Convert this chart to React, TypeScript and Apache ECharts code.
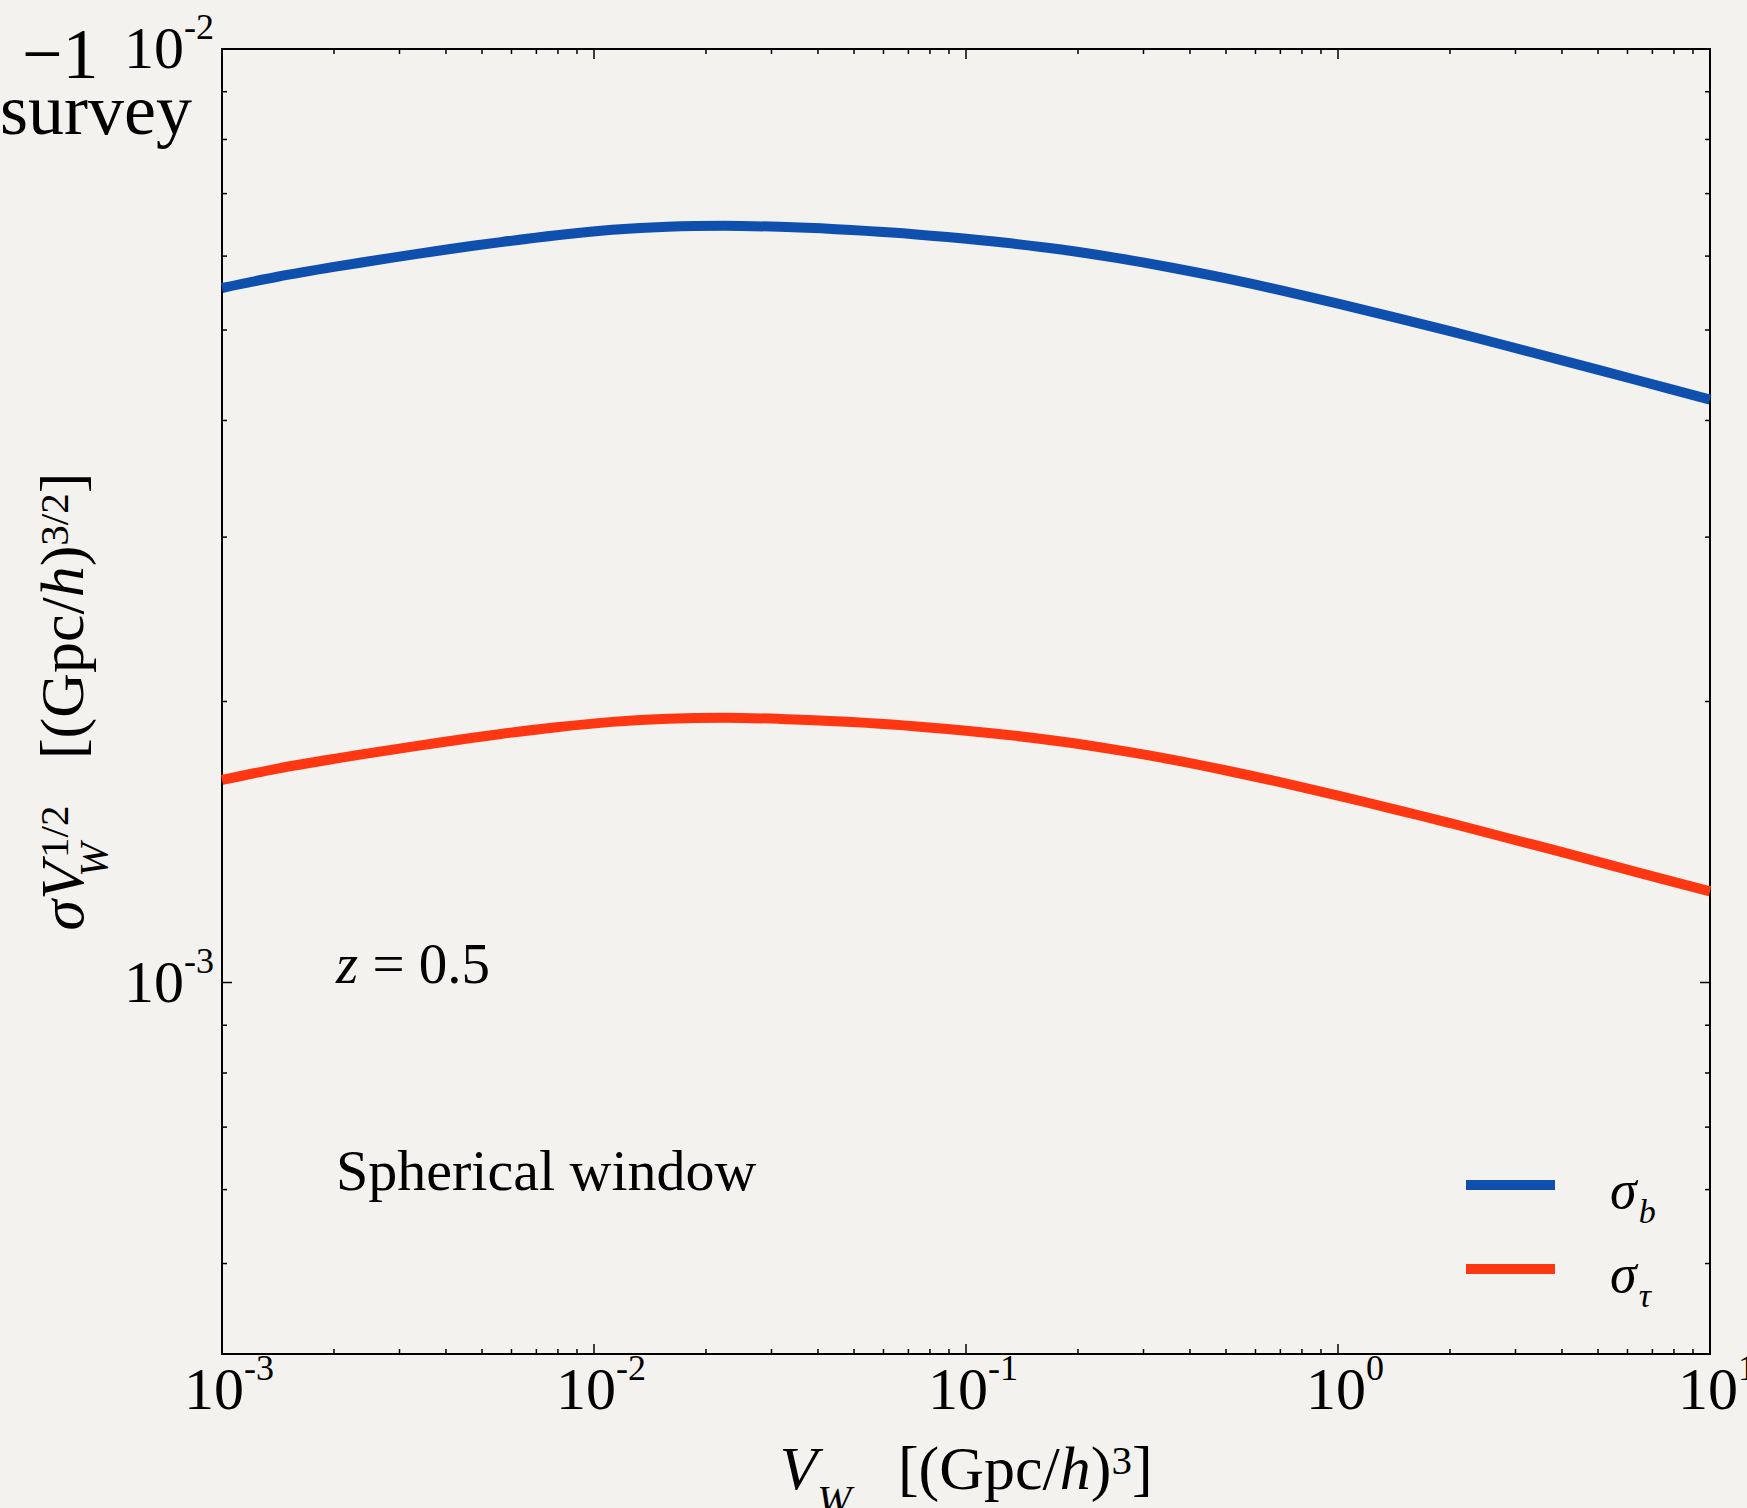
import React, { useEffect, useRef } from 'react';
import * as echarts from 'echarts';

// ---- data ----
const volumes = [
  0.001, 0.00141, 0.002, 0.00282, 0.00398, 0.00562, 0.00794, 0.0112, 0.0158, 0.0224,
  0.0316, 0.0447, 0.0631, 0.0891, 0.126, 0.178, 0.251, 0.355, 0.501, 0.708,
  1, 1.41, 2, 2.82, 3.98, 6.31, 10,
];
const sigmaB = [
  5.546e-3, 5.702e-3, 5.842e-3, 5.97e-3, 6.095e-3, 6.211e-3, 6.317e-3, 6.402e-3, 6.452e-3, 6.467e-3,
  6.449e-3, 6.412e-3, 6.36e-3, 6.288e-3, 6.204e-3, 6.102e-3, 5.977e-3, 5.834e-3, 5.678e-3, 5.51e-3,
  5.336e-3, 5.161e-3, 4.986e-3, 4.813e-3, 4.643e-3, 4.423e-3, 4.212e-3,
];
const sigmaTau = [
  1.648e-3, 1.695e-3, 1.736e-3, 1.774e-3, 1.811e-3, 1.846e-3, 1.877e-3, 1.902e-3, 1.917e-3, 1.922e-3,
  1.916e-3, 1.905e-3, 1.89e-3, 1.869e-3, 1.844e-3, 1.813e-3, 1.776e-3, 1.734e-3, 1.687e-3, 1.637e-3,
  1.586e-3, 1.534e-3, 1.482e-3, 1.43e-3, 1.38e-3, 1.314e-3, 1.252e-3,
];
const seriesNames = ['σb', 'στ'];
const seriesSubs = ['b', 'τ'];
const seriesColors = ['#0f4fae', '#ff3612'];

const xMajorTicks = [0.001, 0.01, 0.1, 1, 10];
const xMinorTicks = [
  0.002, 0.003, 0.004, 0.005, 0.006, 0.007, 0.008, 0.009,
  0.02, 0.03, 0.04, 0.05, 0.06, 0.07, 0.08, 0.09,
  0.2, 0.3, 0.4, 0.5, 0.6, 0.7, 0.8, 0.9,
  2, 3, 4, 5, 6, 7, 8, 9,
];
const yMajorTicks = [0.001, 0.01];
const yMinorTicks = [
  0.0004, 0.0005, 0.0006, 0.0007, 0.0008, 0.0009,
  0.002, 0.003, 0.004, 0.005, 0.006, 0.007, 0.008, 0.009,
];

const X_MIN = 0.001;
const X_MAX = 10;
const Y_MIN = 0.0004;
const Y_MAX = 0.01;

const SERIF = '"Liberation Serif", "Times New Roman", serif';
const BG = '#f3f2ee';

const tickRich: any = {
  b: { fontFamily: SERIF, fontSize: 60, lineHeight: 60, verticalAlign: 'bottom', color: '#000' },
  e: { fontFamily: SERIF, fontSize: 36, lineHeight: 36, verticalAlign: 'bottom', padding: [0, 0, 33, 0], color: '#000' },
};

const nameRich: any = {
  r: { fontFamily: SERIF, fontSize: 62, lineHeight: 62, verticalAlign: 'bottom', padding: [0, 0, 20, 0], color: '#000' },
  i: { fontFamily: SERIF, fontStyle: 'italic', fontSize: 62, lineHeight: 62, verticalAlign: 'bottom', padding: [0, 0, 20, 0], color: '#000' },
  sub: { fontFamily: SERIF, fontStyle: 'italic', fontSize: 41, lineHeight: 41, verticalAlign: 'bottom', color: '#000' },
  subw: { fontFamily: SERIF, fontStyle: 'italic', fontSize: 41, lineHeight: 41, verticalAlign: 'bottom', width: 4, color: '#000' },
  sup: { fontFamily: SERIF, fontSize: 41, lineHeight: 41, verticalAlign: 'bottom', padding: [0, 0, 39, 0], color: '#000' },
};

function decadeLabel(v: number): string {
  const l = Math.log10(v);
  const e = Math.round(l);
  if (Math.abs(l - e) > 1e-6) return '';
  return `{b|10}{e|${e}}`;
}

export default function App() {
  const ref = useRef<HTMLDivElement>(null);
  useEffect(() => {
    if (!ref.current) return;
    const chart = echarts.init(ref.current, undefined, { renderer: 'svg' });

    const tickData: number[][] = [];
    xMajorTicks.forEach((v) => { tickData.push([v, Y_MIN, 0, 10]); tickData.push([v, Y_MIN, 1, 10]); });
    xMinorTicks.forEach((v) => { tickData.push([v, Y_MIN, 0, 5]); tickData.push([v, Y_MIN, 1, 5]); });
    yMajorTicks.forEach((v) => { tickData.push([X_MIN, v, 2, 10]); tickData.push([X_MIN, v, 3, 10]); });
    yMinorTicks.forEach((v) => { tickData.push([X_MIN, v, 2, 5]); tickData.push([X_MIN, v, 3, 5]); });

    const seriesValues = [sigmaB, sigmaTau];

    const option: any = {
      animation: false,
      backgroundColor: BG,
      grid: {
        left: 222, top: 49, right: 37, bottom: 154,
        show: true, borderColor: '#000', borderWidth: 2, backgroundColor: 'transparent',
        containLabel: false, outerBoundsMode: 'none',
      },
      xAxis: {
        type: 'log', logBase: 10, min: X_MIN, max: X_MAX,
        axisLine: { show: false }, axisTick: { show: false }, splitLine: { show: false },
        axisLabel: { formatter: decadeLabel, margin: 5, rich: tickRich, padding: [0, 0, 0, 14], showMinLabel: true, showMaxLabel: true },
        name: '{i|V}{sub|W}{r|   [(Gpc/}{i|h}{r|)}{sup|3}{r|]}',
        nameLocation: 'middle', nameGap: 103,
        nameTextStyle: { rich: nameRich, fontFamily: SERIF, fontSize: 62 },
      },
      yAxis: {
        type: 'log', logBase: 10, min: Y_MIN, max: Y_MAX,
        axisLine: { show: false }, axisTick: { show: false }, splitLine: { show: false },
        axisLabel: { formatter: decadeLabel, margin: 8, rich: tickRich, padding: [0, 0, 2, 0], showMinLabel: true, showMaxLabel: true },
        name: '{i|σV}{subw|W}{sup|1/2}{r|   [(Gpc/}{i|h}{r|)}{sup|3/2}{r|]}',
        nameLocation: 'middle', nameGap: 88, nameRotate: 90,
        nameTextStyle: { rich: nameRich, fontFamily: SERIF, fontSize: 62 },
      },
      legend: {
        data: seriesNames,
        orient: 'vertical',
        left: 1461, top: 1158,
        icon: 'rect', itemWidth: 89, itemHeight: 10, itemGap: 19,
        selectedMode: false,
        formatter: (name: string) => `{s|σ}{sb|${seriesSubs[seriesNames.indexOf(name)]}}`,
        textStyle: {
          padding: [32, 0, 0, 50],
          rich: {
            s: { fontFamily: SERIF, fontStyle: 'italic', fontSize: 54, lineHeight: 54, verticalAlign: 'bottom', padding: [0, 0, 11, 0], color: '#000' },
            sb: { fontFamily: SERIF, fontStyle: 'italic', fontSize: 34, lineHeight: 34, verticalAlign: 'bottom', padding: [0, 0, 0, 2], color: '#000' },
          },
        },
      },
      graphic: [
        {
          type: 'text', x: 336, y: 963,
          style: {
            text: '{i|z}{r| = 0.5}', verticalAlign: 'middle', fill: '#000',
            rich: {
              i: { fontFamily: SERIF, fontStyle: 'italic', fontSize: 57, lineHeight: 57, fill: '#000' },
              r: { fontFamily: SERIF, fontSize: 57, lineHeight: 57, fill: '#000' },
            },
          },
        },
        {
          type: 'text', x: 336, y: 1170,
          style: { text: 'Spherical window', fontFamily: SERIF, fontSize: 58, fill: '#000', verticalAlign: 'middle' },
        },
        {
          type: 'text', x: 22, y: 54,
          style: { text: '−1', fontFamily: SERIF, fontSize: 72, lineHeight: 40, fill: '#000', verticalAlign: 'middle' },
        },
        {
          type: 'text', x: 0, y: 110,
          style: { text: 'survey', fontFamily: SERIF, fontSize: 72, lineHeight: 36, fill: '#000', verticalAlign: 'middle' },
        },
      ],
      series: [
        ...seriesNames.map((name, k) => ({
          name,
          type: 'line',
          data: volumes.map((v, i) => [v, seriesValues[k][i]]),
          smooth: 0.3,
          showSymbol: false,
          symbol: 'none',
          lineStyle: { color: seriesColors[k], width: 10 },
          itemStyle: { color: seriesColors[k] },
          z: 3,
        })),
        {
          type: 'custom',
          silent: true,
          z: 4,
          clip: false,
          data: tickData,
          encode: { x: 0, y: 1 },
          renderItem: (params: any, api: any) => {
            const cs = params.coordSys;
            const side = api.value(2);
            const len = api.value(3);
            const p = api.coord([api.value(0), api.value(1)]);
            let shape: any;
            if (side === 0) shape = { x1: p[0], y1: cs.y + cs.height, x2: p[0], y2: cs.y + cs.height - len };
            else if (side === 1) shape = { x1: p[0], y1: cs.y, x2: p[0], y2: cs.y + len };
            else if (side === 2) shape = { x1: cs.x, y1: p[1], x2: cs.x + len, y2: p[1] };
            else shape = { x1: cs.x + cs.width, y1: p[1], x2: cs.x + cs.width - len, y2: p[1] };
            return { type: 'line', shape, style: { stroke: '#000', lineWidth: 1.5 } };
          },
        },
      ],
    };
    chart.setOption(option);
    return () => chart.dispose();
  }, []);
  return (
    <div
      ref={ref}
      style={{ position: 'absolute', left: 0, top: 0, width: 1747, height: 1508, background: BG }}
    />
  );
}
